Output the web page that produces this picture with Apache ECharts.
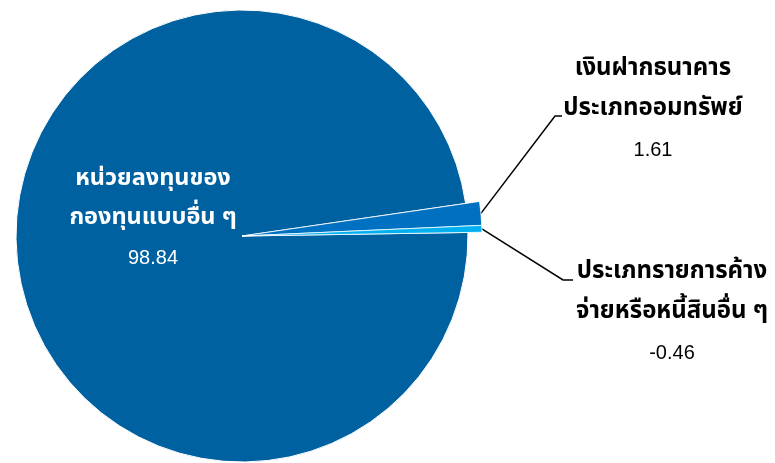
<!DOCTYPE html>
<html>
<head>
<meta charset="utf-8">
<script src="https://cdn.jsdelivr.net/npm/echarts@6/dist/echarts.min.js"></script>
<style>
  html, body { margin: 0; padding: 0; background: #fff; }
  #chart { width: 775px; height: 463px; }
</style>
</head>
<body>
<div id="chart"></div>
<script>
// data
const names = ['หน่วยลงทุนของ\nกองทุนแบบอื่น ๆ', 'เงินฝากธนาคาร\nประเภทออมทรัพย์', 'ประเภทรายการค้าง\nจ่ายหรือหนี้สินอื่น ๆ']
const values = [98.84, 1.61, -0.46]
const colors = ['#0061a0', '#0070c0', '#00b0f0']

const FONT = 'Tahoma, "Noto Sans Thai", "Leelawadee UI", "DejaVu Sans", sans-serif'
const NUMFONT = '"Liberation Sans", Arial, sans-serif'
const center = [242, 236]

// label positions (centre of text block) and leader line bends
const labelPos = [[153, 219], [653, 110], [672, 313]]
const lineBend = [null, [[555, 116], [562, 116]], [[563, 280], [573, 280]]]

function fmt(p) {
  const v = values[p.dataIndex]
  const lines = names[p.dataIndex].split('\n').map(s => '{n|' + s + '}')
  return lines.join('\n') + '\n{v|' + v.toFixed(2) + '}'
}

function buildData(showIdx) {
  return values.map((v, i) => {
    const on = showIdx.indexOf(i) >= 0
    return {
      name: names[i],
      value: Math.abs(v),
      itemStyle: { color: on ? colors[i] : 'rgba(0,0,0,0)', borderColor: on ? '#fff' : 'rgba(0,0,0,0)' },
      label: { show: on },
      labelLine: { show: on }
    }
  })
}

const chart = echarts.init(document.getElementById('chart'))

const option = {
  animation: false,
  series: [
    {
      type: 'pie',
      center: center,
      radius: 226,
      startAngle: 0.9,
      clockwise: true,
      silent: true,
      data: buildData([0]),
      itemStyle: { borderWidth: 1 },
      label: {
        position: 'inside',
        formatter: fmt,
        color: '#fff',
        rich: {
          n: { fontFamily: FONT, fontSize: 23.5, fontWeight: 'bold', color: '#fff', lineHeight: 39 },
          v: { fontFamily: NUMFONT, fontSize: 20, color: '#fff', lineHeight: 39 }
        }
      },
      labelLayout: function (p) {
        return { x: labelPos[0][0], y: labelPos[0][1], align: 'center', verticalAlign: 'middle' }
      }
    },
    {
      type: 'pie',
      center: center,
      radius: 240,
      startAngle: 0.9,
      clockwise: true,
      silent: true,
      data: buildData([1, 2]),
      itemStyle: { borderWidth: 0.8 },
      label: {
        position: 'outside',
        formatter: fmt,
        color: '#000',
        rich: {
          n: { fontFamily: FONT, fontSize: 24, fontWeight: 'bold', color: '#000', lineHeight: 40 },
          v: { fontFamily: NUMFONT, fontSize: 20, color: '#000', lineHeight: 40 }
        }
      },
      labelLine: {
        show: true,
        length: 20,
        length2: 10,
        lineStyle: { color: '#000', width: 1.5 }
      },
      labelLayout: function (p) {
        const i = p.dataIndex
        if (!lineBend[i]) return {}
        const start = p.labelLinePoints ? p.labelLinePoints[0] : [center[0] + 240, center[1]]
        return {
          x: labelPos[i][0],
          y: labelPos[i][1],
          align: 'center',
          verticalAlign: 'middle',
          labelLinePoints: [start, lineBend[i][0], lineBend[i][1]]
        }
      }
    }
  ]
}

chart.setOption(option)
</script>
</body>
</html>
